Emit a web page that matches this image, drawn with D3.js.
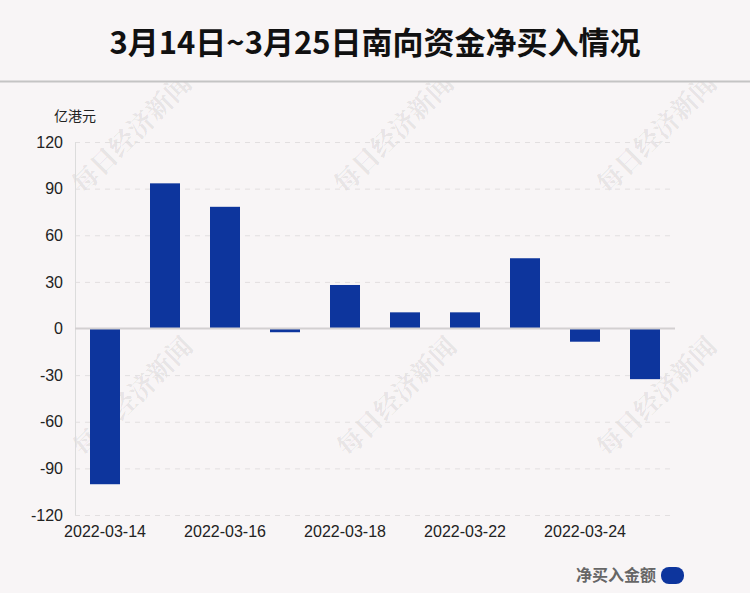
<!DOCTYPE html>
<html><head><meta charset="utf-8">
<script src="https://cdn.jsdelivr.net/npm/d3@7"></script>
<style>
html,body{margin:0;padding:0;background:#f8f5f6;}
svg{display:block;}
</style></head>
<body>
<svg id="chart" width="750" height="593"></svg>
<script>
const categories = ["2022-03-14","2022-03-15","2022-03-16","2022-03-17","2022-03-18","2022-03-21","2022-03-22","2022-03-23","2022-03-24","2022-03-25"];
const values = [-100.2, 93.4, 78.3, -2.4, 28.0, 10.4, 10.4, 45.2, -8.5, -32.6];
const yTicks = [-120, -90, -60, -30, 0, 30, 60, 90, 120];
const title = "3月14日~3月25日南向资金净买入情况";
const unitLabel = "亿港元";
const seriesName = "净买入金额";
const watermark = "每日经济新闻";

const svg = d3.select("#chart");
const W = 750, H = 593;
const m = {left: 75, right: 75, top: 142, bottom: 78};
const font = "'Liberation Sans', Arial, sans-serif";
const cjk = "'Noto Sans CJK SC', 'Liberation Sans', sans-serif";

svg.append("rect").attr("width", W).attr("height", H).attr("fill", "#f8f5f6");

// watermarks
const wmPos = [[130,132],[392,132],[655,132],[131,395],[395,395],[655,395]];
svg.append("g").selectAll("text").data(wmPos).join("text")
  .attr("transform", d => `translate(${d[0]},${d[1]}) rotate(-45)`)
  .attr("text-anchor", "middle").attr("dominant-baseline", "central")
  .attr("font-family", "'Noto Serif CJK SC', " + cjk).attr("font-weight", "bold")
  .attr("font-size", 26).attr("fill", "#000").attr("fill-opacity", 0.085)
  .text(watermark);

// title area
svg.append("rect").attr("x",0).attr("y",0).attr("width",W).attr("height",81).attr("fill","#f8f5f6");
svg.append("text").attr("x", W/2).attr("y", 40)
  .attr("text-anchor", "middle").attr("dominant-baseline", "central")
  .attr("font-family", cjk).attr("font-weight", "bold").attr("font-size", 31)
  .attr("fill", "#111").text(title);
svg.append("line").attr("x1",0).attr("x2",W).attr("y1",81.5).attr("y2",81.5)
  .attr("stroke","#c4c4c4").attr("stroke-width",2);

const x = d3.scaleBand().domain(categories).range([m.left, W - m.right]).paddingInner(0.5).paddingOuter(0.25);
const y = d3.scaleLinear().domain([-120, 120]).range([H - m.bottom, m.top]);

// grid
svg.append("g").selectAll("line").data(yTicks.filter(t => t !== 0)).join("line")
  .attr("x1", m.left).attr("x2", W - m.right)
  .attr("y1", d => y(d) + 0.5).attr("y2", d => y(d) + 0.5)
  .attr("stroke", "#e2dfe0").attr("stroke-dasharray", "5,5");

// y axis line
svg.append("line").attr("x1", m.left + 0.5).attr("x2", m.left + 0.5)
  .attr("y1", y(120)).attr("y2", y(-120)).attr("stroke", "#dcdcdc");

// y axis labels
const yAxis = d3.axisLeft(y).tickValues(yTicks).tickFormat(d => String(d)).tickSize(0).tickPadding(12);
const ya = svg.append("g").attr("transform", `translate(${m.left},0)`).call(yAxis);
ya.select(".domain").remove();
ya.selectAll("text").attr("font-family", font).attr("font-size", 16).attr("fill", "#222");

svg.append("text").attr("x", 54).attr("y", 121)
  .attr("font-family", cjk).attr("font-size", 14).attr("fill", "#222").text(unitLabel);

// bars
svg.append("g").selectAll("rect").data(values).join("rect")
  .attr("x", (d, i) => x(categories[i]))
  .attr("width", x.bandwidth())
  .attr("y", d => y(Math.max(0, d)))
  .attr("height", d => Math.abs(y(d) - y(0)))
  .attr("fill", "#0d359d");

// zero line
svg.append("line").attr("x1", m.left).attr("x2", W - m.right)
  .attr("y1", y(0)).attr("y2", y(0)).attr("stroke", "#d3d0d1").attr("stroke-width", 2);

// x axis labels
const xAxis = d3.axisBottom(x).tickValues(categories.filter((c, i) => i % 2 === 0)).tickSize(0).tickPadding(11);
const xa = svg.append("g").attr("transform", `translate(0,${y(-120)})`).call(xAxis);
xa.select(".domain").remove();
xa.selectAll("text").attr("font-family", font).attr("font-size", 16).attr("fill", "#222");

// legend
svg.append("text").attr("x", 656).attr("y", 574).attr("text-anchor", "end")
  .attr("dominant-baseline", "central")
  .attr("font-family", cjk).attr("font-weight", "bold").attr("font-size", 16)
  .attr("fill", "#666").text(seriesName);
svg.append("rect").attr("x", 661).attr("y", 567).attr("width", 23).attr("height", 17)
  .attr("rx", 8).attr("fill", "#0d359d");
</script>
</body></html>
